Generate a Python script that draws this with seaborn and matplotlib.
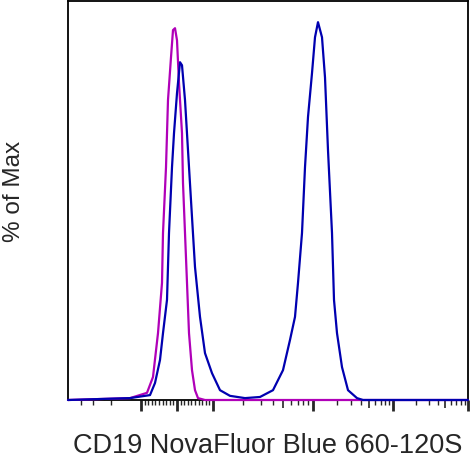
import numpy as np
import pandas as pd
import seaborn as sns
import matplotlib
matplotlib.use("Agg")
import matplotlib.pyplot as plt

# histogram curves, x in display channels (0-400 across the axis), y in % of max
blue_x = [0, 62, 82, 87, 92, 95, 99, 101, 104, 106, 109, 112, 114, 117, 120, 124, 127,
          132, 137, 144, 152, 162, 177, 192, 205, 215, 222, 227, 230, 234, 237, 240,
          244, 247, 250, 254, 257, 260, 264, 266, 269, 274, 280, 289, 295, 400]
blue_y = [0, 0.5, 1.3, 4.5, 10.6, 17.7, 26.5, 44.2, 61.6, 70.6, 81.2, 89.4, 88.6, 79.4,
          66.1, 48.4, 35.2, 22.0, 12.4, 7.1, 2.6, 1.1, 0.5, 0.8, 2.6, 7.9, 15.9, 22.0,
          31.0, 44.2, 61.6, 74.9, 86.5, 96.0, 100.0, 96.0, 85.4, 66.1, 44.2, 26.5, 17.7,
          8.7, 2.6, 0.5, 0, 0]

magenta_x = [0, 62, 79, 85, 90, 94, 95, 98, 100, 103, 105, 107, 109, 111, 114, 115,
             117, 119, 121, 124, 127, 130, 137, 400]
magenta_y = [0, 0.5, 1.9, 6.1, 17.7, 31.0, 44.2, 61.6, 79.4, 90.7, 97.9, 98.4, 95.2,
             83.9, 70.6, 57.4, 44.2, 31.0, 17.7, 7.9, 2.6, 0.5, 0, 0]

xlabel = "CD19 NovaFluor Blue 660-120S"
ylabel = "% of Max"


def to_channel(v):
    # biexponential-like display: linear around zero, log-ish above 10^3
    v = float(v)
    if abs(v) <= 1000:
        return 109 + 0.036 * v
    if v < 0:
        return 73 - 100 * np.log10(-v / 1000)
    dec = [3, 4, 5, 6]
    pos = [145, 245, 325, 400]
    return float(np.interp(np.log10(v), dec, pos))


major_vals = [-1000, 0, 1000, 1e4, 1e5, 1e6]
mid_vals = [5e3, 5e4, 5e5]
minor_vals = ([-4000, -3000, -2000]
              + [k * 100 for k in range(-9, 10) if k != 0]
              + [k * m for m in (1e3, 1e4, 1e5) for k in range(2, 10) if k != 5])

df = pd.concat([
    pd.DataFrame({"x": magenta_x, "y": magenta_y, "s": "ctrl"}),
    pd.DataFrame({"x": blue_x, "y": blue_y, "s": "cd19"}),
])

sns.set_style("ticks")
plt.rcParams["font.family"] = ["Liberation Sans", "DejaVu Sans"]

fig = plt.figure(figsize=(4.70, 4.59), dpi=100)
ax = fig.add_axes([68 / 470, 59 / 459, 400 / 470, 399 / 459])

sns.lineplot(data=df, x="x", y="y", hue="s", palette={"ctrl": "#B000B8", "cd19": "#0000B0"},
             estimator=None, sort=False, lw=1.6, legend=False, ax=ax, zorder=3)
for ln in ax.lines:
    ln.set_clip_on(False)

ax.set_xlim(0, 400)
ax.set_ylim(0, 105.6)

ax.set_xticks([to_channel(v) for v in major_vals])
ax.set_xticks([to_channel(v) for v in minor_vals], minor=True)
ax.tick_params(axis="x", which="major", length=8, width=2, labelbottom=False)
ax.tick_params(axis="x", which="minor", length=3.5, width=1)
sec = ax.secondary_xaxis("bottom")
sec.set_xticks([to_channel(v) for v in mid_vals])
sec.tick_params(length=5.5, width=1.2, labelbottom=False)
sec.spines["bottom"].set_visible(False)

ax.set_yticks([])
for sp in ax.spines.values():
    sp.set_linewidth(1.3)
    sp.set_color("black")

ax.set_xlabel(xlabel, fontsize=19.5, va="baseline")
ax.xaxis.set_label_coords(0.5, -53 / 399)
ax.set_ylabel(ylabel, fontsize=17.5, va="center", ha="center")
ax.yaxis.set_label_coords(-54 / 400, 209 / 399)

fig.savefig("out.png", dpi=100)
